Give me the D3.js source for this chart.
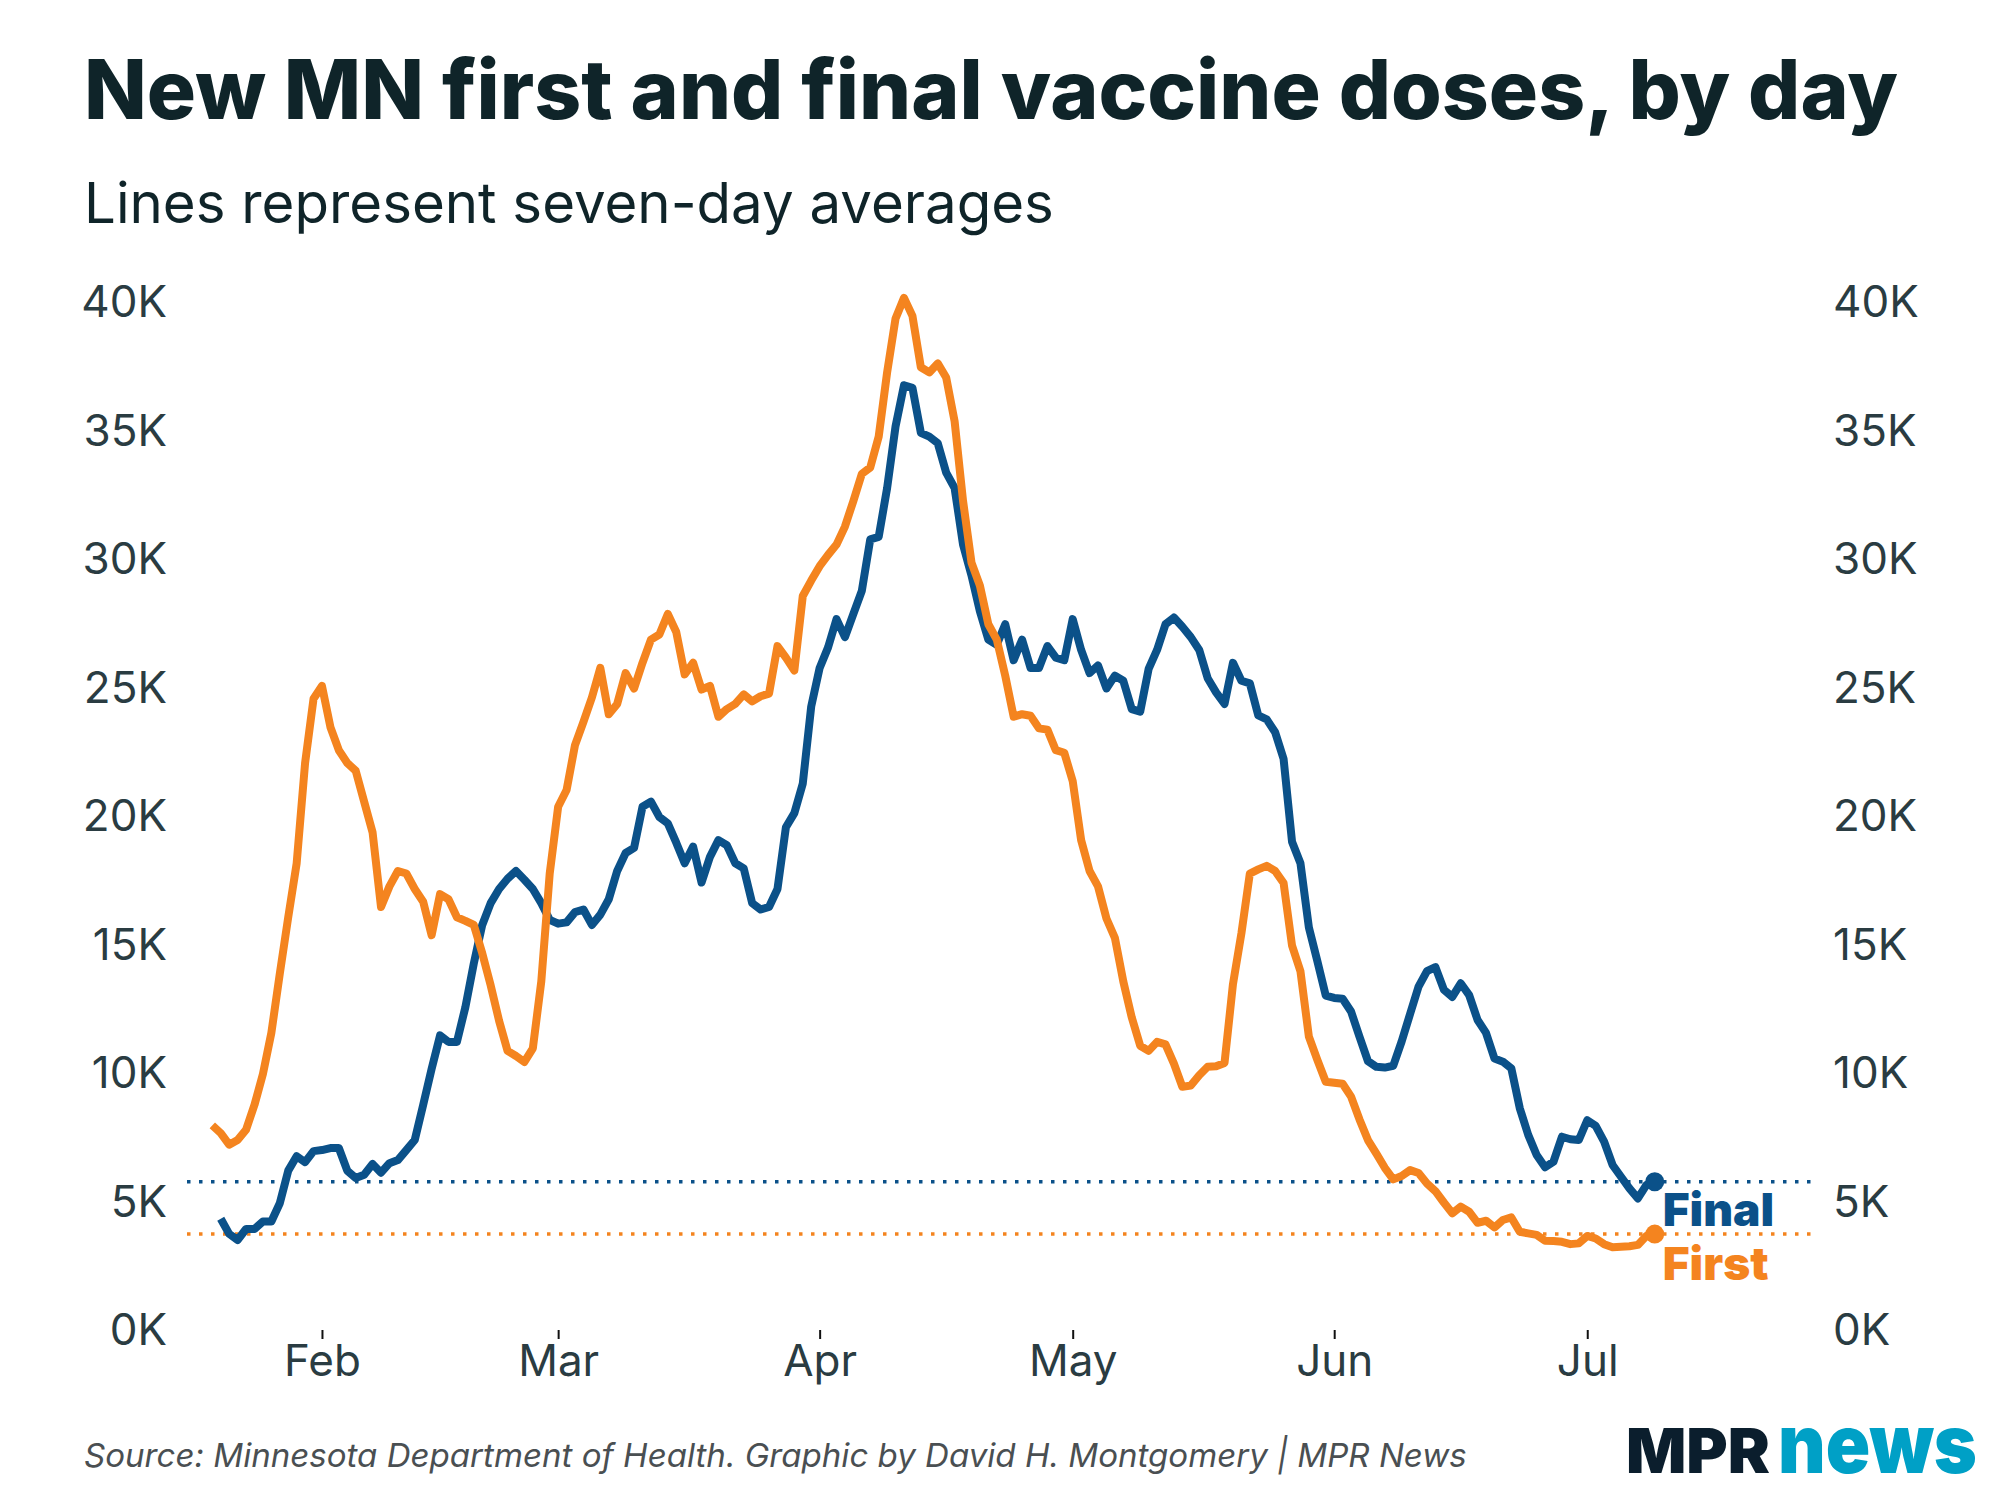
<!DOCTYPE html>
<html>
<head>
<meta charset="utf-8">
<script src="https://cdn.jsdelivr.net/npm/d3@7"></script>
<style>
  html, body { margin: 0; padding: 0; background: #fff; }
  svg { display: block; }
  text { font-family: Inter, "Noto Sans", sans-serif; }
</style>
</head>
<body>
<svg id="chart" width="2000" height="1500"></svg>
<script>
// ---- Data (thousands of doses, 7-day averages) ----
const firstStart = "2021-01-19";
const finalStart = "2021-01-20";

const firstDoses = [
  8.0, 7.7, 7.25, 7.43, 7.83, 8.8, 10.0, 11.6, 13.9, 16.1, 18.2, 22.1, 24.6,
  25.1, 23.5, 22.6, 22.1, 21.8, 20.6, 19.4, 16.5, 17.3, 17.9, 17.8, 17.2, 16.7, 15.4, 17.0, 16.8, 16.1,
  15.96, 15.8, 14.7, 13.45, 12.07, 10.9, 10.7, 10.47, 11.0, 13.6, 17.8, 20.4, 21.05, 22.8, 23.7, 24.65,
  25.8, 24.0, 24.4, 25.6, 25.0, 26.0, 26.9, 27.1, 27.9, 27.2, 25.55, 26.0, 24.96, 25.1, 23.9, 24.2,
  24.4, 24.77, 24.5, 24.7, 24.8, 26.65, 26.2, 25.7, 28.6, 29.2, 29.76, 30.2, 30.6, 31.3, 32.3, 33.35,
  33.6, 34.8, 37.3, 39.4, 40.2, 39.5, 37.5, 37.3, 37.65, 37.1, 35.4, 32.3, 29.9, 29.0, 27.5, 26.9,
  25.5, 23.9, 24.0, 23.94, 23.45, 23.4, 22.6, 22.5, 21.4, 19.1, 17.9, 17.3, 16.05, 15.3, 13.6, 12.2,
  11.1, 10.9, 11.25, 11.15, 10.4, 9.5, 9.55, 9.95, 10.28, 10.3, 10.43, 13.5, 15.47, 17.8, 17.96, 18.1,
  17.9, 17.43, 15.0, 14.0, 11.45, 10.55, 9.7, 9.66, 9.62, 9.12, 8.23, 7.43, 6.9, 6.35, 5.9, 6.03,
  6.26, 6.15, 5.74, 5.44, 5.0, 4.58, 4.84, 4.64, 4.21, 4.29, 4.03, 4.32, 4.42, 3.86, 3.8, 3.74,
  3.51, 3.5, 3.47, 3.38, 3.41, 3.7, 3.6, 3.38, 3.26, 3.28, 3.3, 3.35, 3.7, 3.77
];

const finalDoses = [
  4.37, 3.78, 3.54, 3.97, 3.97, 4.26, 4.26, 4.97, 6.24, 6.8, 6.57, 7.0,
  7.04, 7.12, 7.12, 6.24, 5.95, 6.08, 6.5, 6.16, 6.53, 6.65, 7.04, 7.43, 8.8, 10.2, 11.5, 11.25, 11.25,
  12.6, 14.3, 15.8, 16.65, 17.2, 17.6, 17.9, 17.56, 17.2, 16.65, 16.0, 15.85, 15.9, 16.3, 16.4, 15.8,
  16.2, 16.8, 17.9, 18.6, 18.8, 20.4, 20.6, 20.0, 19.75, 19.0, 18.2, 18.85, 17.45, 18.45, 19.1, 18.9,
  18.2, 18.0, 16.65, 16.4, 16.5, 17.2, 19.6, 20.15, 21.3, 24.3, 25.8, 26.6, 27.7, 27.0, 27.9, 28.8,
  30.8, 30.9, 32.8, 35.2, 36.8, 36.7, 34.95, 34.8, 34.55, 33.4, 32.8, 30.6, 29.4, 28.0, 26.9, 26.7,
  27.5, 26.1, 26.9, 25.8, 25.8, 26.65, 26.2, 26.1, 27.7, 26.5, 25.6, 25.9, 25.0, 25.5, 25.3, 24.2,
  24.1, 25.76, 26.5, 27.5, 27.76, 27.4, 27.0, 26.5, 25.4, 24.85, 24.4, 26.0, 25.3, 25.2, 23.95, 23.8,
  23.3, 22.26, 19.04, 18.2, 15.7, 14.4, 13.05, 12.96, 12.93, 12.43, 11.45, 10.5, 10.28, 10.25, 10.32, 11.27,
  12.34, 13.4, 14.0, 14.16, 13.28, 13.0, 13.53, 13.07, 12.1, 11.6, 10.6, 10.48, 10.22, 8.67, 7.63, 6.85,
  6.37, 6.59, 7.56, 7.46, 7.43, 8.2, 7.98, 7.37, 6.46, 6.0, 5.55, 5.16, 5.68, 5.81
];

const yTicks = [0, 5, 10, 15, 20, 25, 30, 35, 40];
const monthTicks = ["2021-02-01", "2021-03-01", "2021-04-01", "2021-05-01", "2021-06-01", "2021-07-01"];
const xDomain = ["2021-01-16", "2021-07-28"];

const titleText = "New MN first and final vaccine doses, by day";
const subtitleText = "Lines represent seven-day averages";
const sourceText = "Source: Minnesota Department of Health. Graphic by David H. Montgomery | MPR News";

// ---- Setup ----
const BLUE = "#0b5189";
const ORANGE = "#f4841f";
const INK = "#0f2429";
const AXIS_INK = "#2a3c42";

const svg = d3.select("#chart");
const parse = d3.utcParse("%Y-%m-%d");

function series(start, vals) {
  const s = parse(start);
  return vals.map((v, i) => ({ date: d3.utcDay.offset(s, i), value: v * 1000 }));
}
const first = series(firstStart, firstDoses);
const final = series(finalStart, finalDoses);

const x = d3.scaleUtc().domain(xDomain.map(parse)).range([187, 1815]);
const y = d3.scaleLinear().domain([0, 40000]).range([1331, 303]);

function fitText(sel, target) {
  const node = sel.node();
  const fs = parseFloat(sel.attr("font-size"));
  const w = node.getComputedTextLength();
  sel.attr("font-size", (fs * target / w).toFixed(2));
}

// Title & subtitle
const title = svg.append("text").attr("x", 84).attr("y", 119)
  .attr("font-size", 88).attr("font-weight", 800).attr("fill", INK).text(titleText);
fitText(title, 1814);

const sub = svg.append("text").attr("x", 84).attr("y", 223)
  .attr("font-size", 56).attr("font-weight", 400).attr("fill", INK).text(subtitleText);
fitText(sub, 970);

// Axes
const fmt = d => (d / 1000) + "K";
const yLeft = svg.append("g").attr("transform", "translate(167,0)")
  .call(d3.axisLeft(y).tickValues(yTicks.map(t => t * 1000)).tickFormat(fmt).tickSize(0).tickPadding(0));
const yRight = svg.append("g").attr("transform", "translate(1833,0)")
  .call(d3.axisRight(y).tickValues(yTicks.map(t => t * 1000)).tickFormat(fmt).tickSize(0).tickPadding(0));
[yLeft, yRight].forEach(g => {
  g.select(".domain").remove();
  g.selectAll("text").attr("font-size", 44).attr("fill", AXIS_INK)
    .style("font-family", "Inter").attr("dy", "0.31em");
});

const xAxis = svg.append("g").attr("transform", "translate(0,1330)")
  .call(d3.axisBottom(x).tickValues(monthTicks.map(parse))
    .tickFormat(d3.utcFormat("%b")).tickSize(9).tickPadding(6));
xAxis.select(".domain").remove();
xAxis.selectAll("line").attr("stroke", "#111").attr("stroke-width", 2);
xAxis.selectAll("text").attr("font-size", 44).attr("fill", AXIS_INK).style("font-family", "Inter");

// Reference dotted lines at latest values
const lastFinal = final[final.length - 1];
const lastFirst = first[first.length - 1];
[[lastFinal, BLUE], [lastFirst, ORANGE]].forEach(([p, c]) => {
  svg.append("line")
    .attr("x1", x.range()[0]).attr("x2", x.range()[1])
    .attr("y1", y(p.value)).attr("y2", y(p.value))
    .attr("stroke", c).attr("stroke-width", 3.5)
    .attr("stroke-dasharray", "3.5 8.5");
});

// Lines
const line = d3.line().x(d => x(d.date)).y(d => y(d.value));
svg.append("path").datum(final).attr("d", line)
  .attr("fill", "none").attr("stroke", BLUE).attr("stroke-width", 8)
  .attr("stroke-linejoin", "round").attr("stroke-linecap", "butt");
svg.append("path").datum(first).attr("d", line)
  .attr("fill", "none").attr("stroke", ORANGE).attr("stroke-width", 8)
  .attr("stroke-linejoin", "round").attr("stroke-linecap", "butt");

// End dots and labels
svg.append("circle").attr("cx", x(lastFinal.date)).attr("cy", y(lastFinal.value)).attr("r", 9.5).attr("fill", BLUE);
svg.append("circle").attr("cx", x(lastFirst.date)).attr("cy", y(lastFirst.value)).attr("r", 9.5).attr("fill", ORANGE);

svg.append("text").attr("x", x(lastFinal.date) + 8).attr("y", y(lastFinal.value) + 44)
  .attr("font-size", 46).attr("font-weight", 900).attr("fill", BLUE).text("Final");
svg.append("text").attr("x", x(lastFirst.date) + 8).attr("y", y(lastFirst.value) + 46)
  .attr("font-size", 46).attr("font-weight", 900).attr("fill", ORANGE).text("First");

// Source
const src = svg.append("text").attr("x", 84).attr("y", 1467)
  .attr("font-size", 36).attr("font-style", "italic").attr("fill", "#4a4f52").text(sourceText);
fitText(src, 1383);

// Logo
svg.append("text").attr("x", 1626).attr("y", 1473)
  .attr("font-size", 62).attr("font-weight", 900).attr("fill", "#0b1e2d")
  .attr("textLength", 144).attr("lengthAdjust", "spacingAndGlyphs").text("MPR");
svg.append("text").attr("x", 1778).attr("y", 1473)
  .attr("font-size", 82).attr("font-weight", 900).attr("fill", "#00a0c6")
  .attr("textLength", 199).attr("lengthAdjust", "spacingAndGlyphs").text("news");
</script>
</body>
</html>
